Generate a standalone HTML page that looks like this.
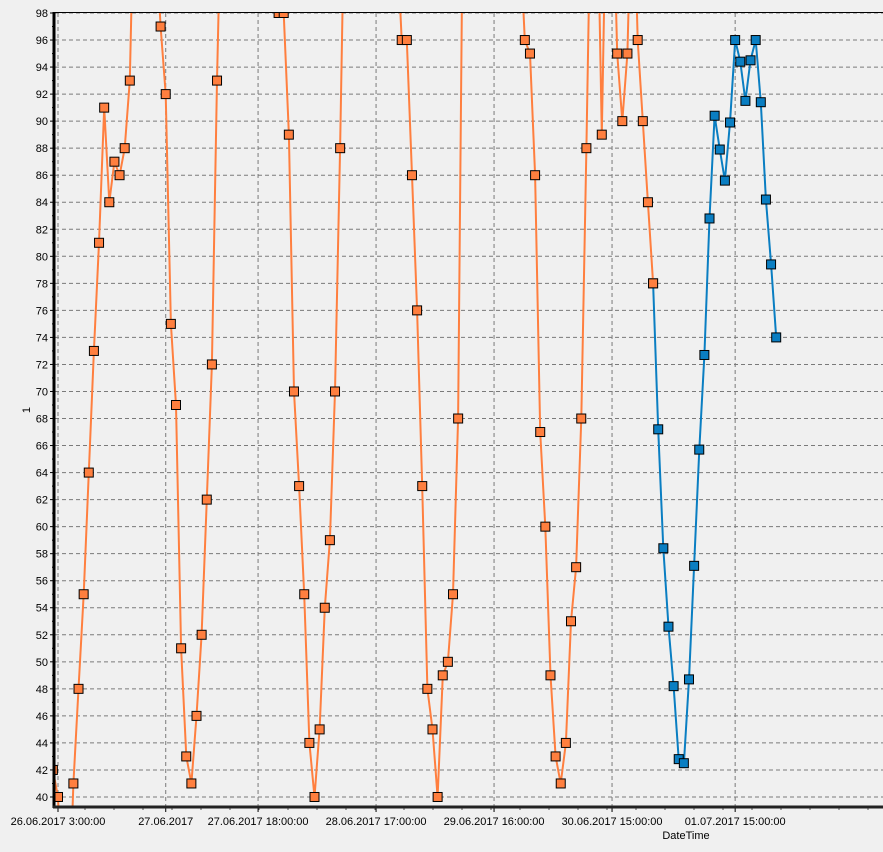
<!DOCTYPE html>
<html><head><meta charset="utf-8">
<style>
html,body{margin:0;padding:0;background:#f0f0f0;width:883px;height:852px;overflow:hidden;}
svg{display:block;font-family:"Liberation Sans",sans-serif;}
</style></head>
<body>
<svg id="chart" width="883" height="852" viewBox="0 0 883 852" xmlns="http://www.w3.org/2000/svg">
<rect x="0" y="0" width="883" height="852" fill="#f0f0f0"/>
<defs><clipPath id="plotclip"><rect x="55" y="12" width="828" height="795"/></clipPath></defs>
<g id="grid"></g>
<g id="series" clip-path="url(#plotclip)"></g>
<g id="axes"></g>
<text x="30" y="410" font-size="11" fill="#000" text-anchor="middle" transform="rotate(-90 30 410)">1</text>
<text x="686" y="839" font-size="11" fill="#000" text-anchor="middle">DateTime</text>
</svg>
<script>
// hour index (hours since 26.06.2017 0:00) of first points
const orangeStart = 2;
const orangeValues = [42,40,30,30,41,48,55,64,73,81,91,84,87,86,88,93,
 110,115,115,115,104,97,92,75,69,51,43,41,46,52,62,72,93,
 110,115,115,115,115,115,115,115,115,115,115,98,98,89,70,63,55,44,40,45,54,59,70,88,
 110,115,115,115,115,115,115,115,115,115,104,96,96,86,76,63,48,45,40,49,50,55,68,
 110,115,115,115,115,115,115,115,115,115,115,104,96,95,86,67,60,49,43,41,44,53,57,68,88,
 110,110,89,110,110,95,90,95,110,96,90,84,78];
const orangeHidden = [4,5,18,19,20,21,22,35,36,37,38,39,40,41,42,43,44,45,59,60,61,62,63,64,65,66,67,68,69,82,83,84,85,86,87,88,89,90,91,92,93,107,108,110,111,115];
const blueStart = 119;
const blueValues = [78,67.2,58.4,52.6,48.2,42.8,42.5,48.7,57.1,65.7,72.7,82.8,90.4,87.9,85.6,89.9,96,94.4,91.5,94.5,96,91.4,84.2,79.4,74];
const xTickHours = [3,24,42,65,88,111,135];
const xTickLabels = ["26.06.2017 3:00:00","27.06.2017","27.06.2017 18:00:00","28.06.2017 17:00:00","29.06.2017 16:00:00","30.06.2017 15:00:00","01.07.2017 15:00:00"];
const yMin = 40, yMax = 98, yStep = 2;

const NS = "http://www.w3.org/2000/svg";
const X = h => 58 + (h - 3) * 5.13;
const Y = v => 13 + (yMax - v) * 13.517;
function mk(tag, attrs, parent){const e=document.createElementNS(NS,tag);for(const k in attrs)e.setAttribute(k,attrs[k]);parent.appendChild(e);return e;}
const grid=document.getElementById('grid'), axes=document.getElementById('axes'), ser=document.getElementById('series');

for(let v=yMin; v<=yMax; v+=yStep){
  const y=Y(v);
  const g=mk('line',{x1:55,x2:883,y1:y,y2:y,stroke:'#7a7a7a','stroke-dasharray':'4,3','stroke-width':1},grid);
  
  
  const t=mk('line',{x1:50,x2:54,y1:y,y2:y,stroke:'#000'},axes);
  
  
  const l=mk('text',{x:48,y:y+4,'font-size':11,'text-anchor':'end',fill:'#000'},axes);
  l.textContent=v;
  
  
  if(v<yMax){const m=mk('line',{x1:52,x2:54,y1:Y(v+1),y2:Y(v+1),stroke:'#000'},axes);
    
    }
}
xTickHours.forEach((h,i)=>{
  const x=X(h);
  const g=mk('line',{x1:x,x2:x,y1:13,y2:807,stroke:'#7a7a7a','stroke-dasharray':'4,3'},grid);
  
  
  const t=mk('line',{x1:x,x2:x,y1:807,y2:812,stroke:'#000'},axes);
  
  
  const l=mk('text',{x:x,y:825,'font-size':11,'text-anchor':'middle',fill:'#000'},axes);
  l.textContent=xTickLabels[i];
  
  
});
for(let x=85;x<883;x+=29){const m=mk('line',{x1:x,x2:x,y1:807,y2:810,stroke:'#555'},axes);
  
  }
const fr=mk('line',{x1:55,x2:883,y1:12.5,y2:12.5,stroke:'#000','stroke-width':1},axes);


const ax=mk('line',{x1:54,x2:54,y1:12,y2:808,stroke:'#000','stroke-width':3},axes);


const bx=mk('line',{x1:53,x2:883,y1:807,y2:807,stroke:'#222','stroke-width':3},axes);



function drawSeries(start, vals, color, name, hidden){
  const pts=vals.map((v,i)=>X(start+i).toFixed(1)+','+Y(v).toFixed(1)).join(' ');
  const pl=mk('polyline',{points:pts,fill:'none',stroke:color,'stroke-width':2,'stroke-linejoin':'round'},ser);
  
  
  vals.forEach((v,i)=>{
    if(hidden && hidden.indexOf(start+i)>=0) return;
    const r=mk('rect',{x:X(start+i)-4.5,y:Y(v)-4.5,width:9,height:9,fill:color,stroke:'#000','stroke-width':1},ser);
    
    
  });
}
drawSeries(blueStart, blueValues, '#0a7ec2', 'blue-series', null);
drawSeries(orangeStart, orangeValues, '#ff7f3f', 'orange-series', orangeHidden);
</script>
</body></html>
